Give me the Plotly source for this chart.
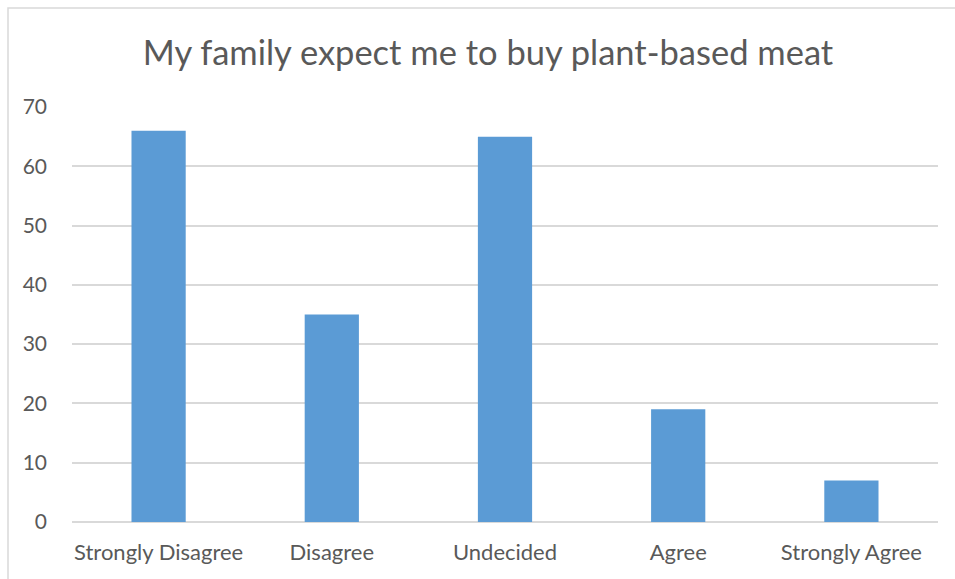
import plotly.graph_objects as go

# Survey responses
categories = ["Strongly Disagree", "Disagree", "Undecided", "Agree", "Strongly Agree"]
counts = [66, 35, 65, 19, 7]
y_ticks = [0, 10, 20, 30, 40, 50, 60, 70]

W, H = 955, 579
ml, mr, mt, mb = 72, 17, 107, 57
pw, ph = W - ml - mr, H - mt - mb

fig = go.Figure(
    go.Bar(
        x=categories,
        y=counts,
        marker=dict(color="#5B9BD5", line=dict(width=0)),
        hoverinfo="x+y",
    )
)

# Chart-area outline (extends off the right and bottom edges)
fig.add_shape(
    type="rect", xref="paper", yref="paper",
    x0=(8 - ml) / pw, x1=1.2, y0=-0.5, y1=(H - mb - 8) / ph,
    line=dict(color="#D9D9D9", width=1.5), fillcolor="rgba(0,0,0,0)", layer="below",
)

fig.update_layout(
    width=W, height=H,
    margin=dict(l=ml, r=mr, t=mt, b=mb),
    paper_bgcolor="white", plot_bgcolor="white",
    font=dict(family="Lato, Open Sans, sans-serif", color="#595959"),
    title=dict(
        text="My family expect me to buy plant-based meat",
        x=(488) / W, xanchor="center",
        y=1 - 53 / H, yanchor="middle", yref="container",
        font=dict(size=34.5, color="#595959"),
    ),
    bargap=0.687,
    showlegend=False,
    xaxis=dict(
        showgrid=False, showline=False, ticks="",
        tickfont=dict(size=22, color="#595959"),
        ticklabelstandoff=15,
    ),
    yaxis=dict(
        range=[0, 70], tickvals=y_ticks,
        showgrid=True, gridcolor="#D9D9D9", gridwidth=1.5,
        zeroline=True, zerolinecolor="#D9D9D9", zerolinewidth=1.5,
        showline=False, ticks="",
        tickfont=dict(size=21, color="#595959"),
        ticklabelstandoff=24,
    ),
)

fig.write_html("out.html")
